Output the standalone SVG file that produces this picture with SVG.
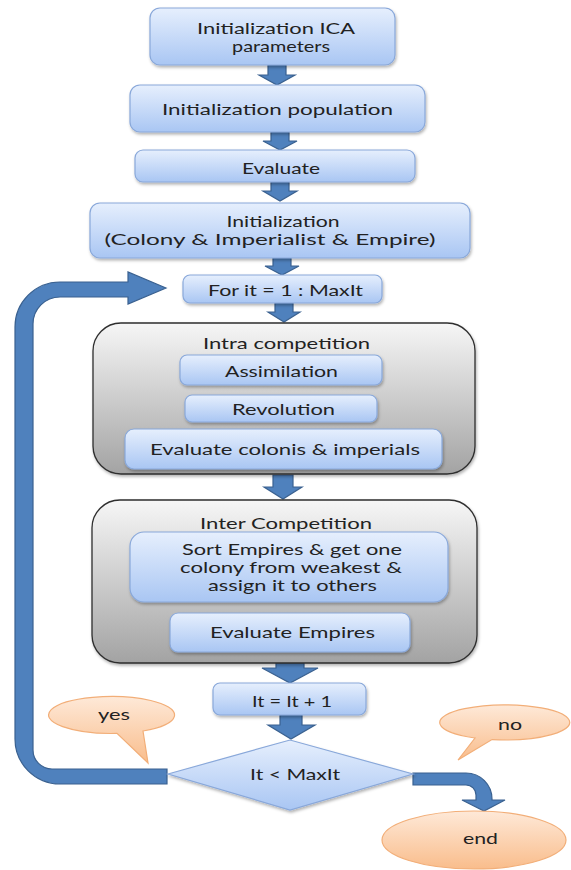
<svg xmlns="http://www.w3.org/2000/svg" width="571" height="870" viewBox="0 0 571 870">
<defs>
<linearGradient id="gBox" x1="0" y1="0" x2="0" y2="1"><stop offset="0" stop-color="#e6effd"/><stop offset="1" stop-color="#a9c6f3"/></linearGradient>
<linearGradient id="gGrp" x1="0" y1="0" x2="0" y2="1"><stop offset="0" stop-color="#f6f6f6"/><stop offset="1" stop-color="#a3a3a3"/></linearGradient>
<linearGradient id="gOr" x1="0" y1="0" x2="0" y2="1"><stop offset="0" stop-color="#fee9d8"/><stop offset="1" stop-color="#f9bd8c"/></linearGradient>
<filter id="sh" x="-10%" y="-10%" width="120%" height="130%"><feDropShadow dx="1" dy="2" stdDeviation="1.5" flood-color="#000" flood-opacity="0.3"/></filter>
<style>
.box{fill:url(#gBox);stroke:#89a8da;stroke-width:1.2;filter:url(#sh)}
.grp{fill:url(#gGrp);stroke:#2e2e2e;stroke-width:1.3;filter:url(#sh)}
.or{fill:url(#gOr);stroke:#f2ae78;stroke-width:1.2}
.arr{fill:#4f81bd;stroke:#3a6190;stroke-width:1.2}
text{font-family:Lato,"Open Sans","DejaVu Sans",sans-serif;font-size:16px;fill:#222;text-anchor:middle;dominant-baseline:central}
.ml{font-size:15px}
</style>
</defs>

<g id="connectors">
<path class="arr" d="M268 65 H286 V75 H295 L277 85 L259 75 H268 Z"/>
<path class="arr" d="M271 132 H289 V141 H297 L280 150 L263 141 H271 Z"/>
<path class="arr" d="M271 182 H289 V191 H297 L280 201 L263 191 H271 Z"/>
<path class="arr" d="M273 258 H291 V266 H299 L282 275 L265 266 H273 Z"/>
<path class="arr" d="M275 303 H293 V312 H300 L284 322 L268 312 H275 Z"/>
<path class="arr" d="M273 475 H293 V487 H302 L283 499 L264 487 H273 Z"/>
<path class="arr" d="M276 663 H304 V668 H318 L290 683 L262 668 H276 Z"/>
<path class="arr" d="M280 715 H302 V725 H315 L291 739 L268 725 H280 Z"/>
<path class="arr" d="M166 288 L128 272 V282 H60 A45 45 0 0 0 15 327 V739 A45 45 0 0 0 60 784 H167 V769 H52 A19 19 0 0 1 33 750 V324 A27 27 0 0 1 60 297 H128 V304 Z"/>
<path class="arr" d="M413 773 H466 A26 26 0 0 1 492 799 V800 H505 L484 811 L462 800 H476 V795 A10 10 0 0 0 466 785 H413 Z"/>
</g>

<g id="n1"><rect class="box" x="150" y="8" width="245" height="57" rx="10"/><text class="ml" x="276" y="28" textLength="158" lengthAdjust="spacingAndGlyphs">Initialization ICA</text><text class="ml" x="281" y="46" textLength="98" lengthAdjust="spacingAndGlyphs">parameters</text></g>
<g id="n2"><rect class="box" x="130" y="85" width="295" height="47" rx="10"/><text x="277.5" y="108" textLength="231" lengthAdjust="spacingAndGlyphs">Initialization population</text></g>
<g id="n3"><rect class="box" x="135" y="150" width="280" height="32" rx="8"/><text x="281" y="167" textLength="78" lengthAdjust="spacingAndGlyphs">Evaluate</text></g>
<g id="n4"><rect class="box" x="90" y="203" width="380" height="55" rx="10"/><text class="ml" x="283" y="221" textLength="113" lengthAdjust="spacingAndGlyphs">Initialization</text><text class="ml" x="270" y="239" textLength="331" lengthAdjust="spacingAndGlyphs">(Colony &amp; Imperialist &amp; Empire)</text></g>
<g id="n5"><rect class="box" x="183" y="275" width="199" height="28" rx="7"/><text x="285.5" y="289" textLength="155" lengthAdjust="spacingAndGlyphs">For it = 1 : MaxIt</text></g>

<g id="g1"><rect class="grp" x="93" y="323" width="382" height="151" rx="28"/><text x="286.5" y="342" textLength="167" lengthAdjust="spacingAndGlyphs">Intra competition</text></g>
<g id="n6"><rect class="box" x="180" y="355" width="202" height="30" rx="7"/><text x="281.5" y="370" textLength="113" lengthAdjust="spacingAndGlyphs">Assimilation</text></g>
<g id="n7"><rect class="box" x="185" y="395" width="192" height="27" rx="7"/><text x="283.5" y="408" textLength="103" lengthAdjust="spacingAndGlyphs">Revolution</text></g>
<g id="n8"><rect class="box" x="125" y="429" width="317" height="40" rx="9"/><text x="285" y="448" textLength="270" lengthAdjust="spacingAndGlyphs">Evaluate colonis &amp; imperials</text></g>

<g id="g2"><rect class="grp" x="92" y="500" width="385" height="163" rx="28"/><text x="286" y="522" textLength="172" lengthAdjust="spacingAndGlyphs">Inter Competition</text></g>
<g id="n9"><rect class="box" x="130" y="532" width="318" height="70" rx="14"/><text class="ml" x="292" y="549" textLength="220" lengthAdjust="spacingAndGlyphs">Sort Empires &amp; get one</text><text class="ml" x="291" y="567" textLength="222" lengthAdjust="spacingAndGlyphs">colony from weakest &amp;</text><text class="ml" x="292.5" y="585" textLength="169" lengthAdjust="spacingAndGlyphs">assign it to others</text></g>
<g id="n10"><rect class="box" x="170" y="613" width="240" height="39" rx="8"/><text x="292.5" y="631" textLength="165" lengthAdjust="spacingAndGlyphs">Evaluate Empires</text></g>

<g id="n11"><rect class="box" x="213" y="683" width="153" height="32" rx="7"/><text x="292" y="700" textLength="80" lengthAdjust="spacingAndGlyphs">It = It + 1</text></g>
<g id="n12"><path class="box" d="M168 774 L290 740 L413 774 L290 810 Z"/><text x="295" y="773" textLength="90" lengthAdjust="spacingAndGlyphs">It &lt; MaxIt</text></g>

<g id="yes"><path class="or" d="M143 731 A63 18.5 0 1 0 117 733.4 L148 763 Z"/><text x="114" y="713" textLength="32" lengthAdjust="spacingAndGlyphs">yes</text></g>
<g id="no"><path class="or" d="M475 738 A65 17.5 0 1 1 492 739.6 L458 760 Z"/><text x="510" y="723" textLength="24" lengthAdjust="spacingAndGlyphs">no</text></g>
<g id="end"><ellipse class="or" cx="474" cy="840" rx="92" ry="29"/><text x="480.5" y="837" textLength="35" lengthAdjust="spacingAndGlyphs">end</text></g>
</svg>
